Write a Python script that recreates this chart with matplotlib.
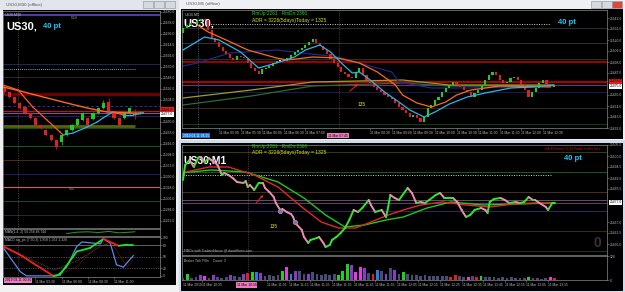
import numpy as np
import matplotlib
matplotlib.use("Agg")
import matplotlib.pyplot as plt
from matplotlib.patches import Rectangle
from matplotlib.collections import LineCollection

plt.rcParams['font.family'] = ['Liberation Sans', 'DejaVu Sans']

W, H = 625, 292

# ================= DATA =================
# ---- left window : US30,M30 ----
lc_open  = [25529, 25519, 25509, 25497, 25489, 25477, 25467, 25453, 25443, 25433, 25423, 25419, 25433, 25443,
            25453, 25463, 25467, 25465, 25477, 25487, 25499, 25481, 25467, 25467, 25477, 25477, 25475]
lc_close = [25519, 25509, 25497, 25487, 25477, 25467, 25453, 25447, 25433, 25423, 25409, 25433, 25443, 25453,
            25465, 25477, 25453, 25477, 25487, 25497, 25481, 25467, 25453, 25477, 25487, 25473, 25477]
lc_high  = [25533, 25521, 25511, 25499, 25491, 25479, 25469, 25455, 25445, 25435, 25425, 25435, 25445, 25455,
            25467, 25479, 25469, 25479, 25489, 25503, 25507, 25483, 25469, 25479, 25489, 25485, 25481]
lc_low   = [25517, 25507, 25495, 25485, 25475, 25465, 25451, 25445, 25431, 25421, 25405, 25413, 25431, 25441,
            25451, 25461, 25451, 25463, 25475, 25485, 25479, 25465, 25451, 25465, 25475, 25465, 25475]
lc_slow_x = [-0.2, 3.1, 7.5, 12.0, 15.9, 19.7, 24.7, 26.6]
lc_slow_y = [25529, 25521, 25509, 25497, 25487, 25479, 25477, 25477]
lc_fast_x = [-0.2, 2.7, 5.5, 8.2, 10.7, 11.3, 13.2, 15.9, 17.8, 18.9, 20.8, 22.8, 24.7, 26.6]
lc_fast_y = [25533, 25523, 25489, 25463, 25439, 25433, 25437, 25449, 25459, 25467, 25479, 25473, 25473, 25477]
lc_levels = [25673, 25575, 25549, 25516, 25491, 25481, 25477, 25471, 25447, 25411, 25383, 25355, 25329, 25301, 25273]
lc_level_colors = ['#4a3ea0', '#1a2a5a', '#2a2a2a', '#6a0000', '#2c2ca0', '#c01010', '#8a4a9a', '#202060',
                   '#1a4a1a', '#1a5a1a', '#4a2a1a', '#1a1a6a', '#d06050', '#1a4a1a', '#2a2a2a']
lc_level_lw = [1.5, 0.7, 0.7, 2.2, 0.7, 0.8, 0.8, 0.7, 0.7, 0.7, 0.7, 0.7, 0.8, 0.7, 0.7]
lc_olive_level = 25451
lc_dotted_level = 25565
lc_price_ticks = [25680, 25658, 25636, 25614, 25592, 25570, 25548, 25526, 25504, 25460, 25438,
                  25416, 25394, 25372, 25350, 25328, 25306, 25284, 25262]
lc_bid, lc_ask = 25477.0, 25481.0
lc_strip_x = [12, 14, 16, 18, 20, 22, 24, 25]
lc_strip_y = [35, 55, 60, 50, 65, 45, 55, 60]
osc_blue_x = [-0.1, 3.1, 4.3, 10.1, 12.0, 13.9, 14.9, 18.4, 19.0, 20.3, 21.5, 22.8, 24.7]
osc_blue_y = [73, 11, 0, 0, 24, 77, 89, 84, 97, 86, 29, 23, 53]
osc_sig_x = [-0.1, 3.1, 5.6, 9.4, 10.7, 13.9, 16.4, 19.0, 21.9, 23.5, 24.7]
osc_sig_y = [77, 55, 33, 0, 3, 64, 73, 97, 79, 82, 82]
osc_gray_x = [-0.1, 9.6, 14.0, 18.4, 20.0]
osc_gray_y = [77, 15, 40, 77, 85]
osc_dred_x = [10.1, 13.9, 18.4, 21.0, 23.5, 24.7]
osc_dred_y = [0, 24, 87, 77, 24, 42]
osc_levels = [80, 50, 20]
osc_ticks = [100, 80, 50, 20, 0]
lc_time_pos = [6, 11, 16, 21]
lc_time_lab = ['11 Mar 03:30', '11 Mar 06:00', '11 Mar 08:30', '11 Mar 11:00']

# ---- top-right window : US30,M5 ----
tr_first_open = 25527
tr_close = [25532, 25535, 25537, 25536, 25539, 25541, 25540, 25530, 25522, 25518,
            25513, 25509, 25506, 25502, 25500, 25504, 25503, 25502, 25497, 25492,
            25489, 25486, 25491, 25492, 25494, 25497, 25499, 25499, 25499, 25502,
            25505, 25508, 25510, 25512, 25515, 25518, 25521, 25517, 25514, 25510,
            25506, 25501, 25497, 25493, 25488, 25486, 25483, 25482, 25488, 25492,
            25485, 25480, 25477, 25473, 25470, 25468, 25465, 25463, 25461, 25457, 25453,
            25450, 25447, 25443, 25445, 25442, 25438, 25443, 25452, 25455, 25460,
            25463, 25468, 25472, 25475, 25478, 25475, 25473, 25470, 25468, 25463,
            25467, 25470, 25475, 25480, 25485, 25488, 25485, 25480, 25477, 25478,
            25482, 25483, 25480, 25475, 25470, 25463, 25468, 25472, 25477, 25480,
            25475, 25473, 25475]
tr_orange_x = [4, 7, 12, 18, 26, 29, 36, 43, 49, 54, 59, 61, 65, 69, 73, 76, 80, 88, 102]
tr_orange_y = [25535, 25528, 25520, 25510, 25502, 25500, 25503, 25502, 25497, 25488, 25475, 25465,
               25457, 25453, 25458, 25465, 25470, 25474, 25473]
tr_cyan_x = [0, 6, 10, 16, 21, 26, 31, 34, 38, 41, 44, 47, 49, 52, 56, 60, 63, 67, 70, 74, 79, 84, 91, 97, 103]
tr_cyan_y = [25510, 25523, 25520, 25508, 25492, 25497, 25503, 25510, 25515, 25508, 25497, 25487, 25488,
             25480, 25468, 25458, 25450, 25443, 25448, 25456, 25463, 25467, 25472, 25473, 25475]
tr_navy_x = [0, 4, 13, 26, 43, 58, 60, 69, 79, 94, 103]
tr_navy_y = [25494, 25497, 25507, 25510, 25503, 25488, 25478, 25472, 25472, 25473, 25474]
tr_olive_x = [0, 19, 36, 61, 74, 103]
tr_olive_y = [25462, 25470, 25478, 25480, 25475, 25475]
tr_dgreen_x = [0, 19, 36, 61, 74, 103]
tr_dgreen_y = [25455, 25464, 25474, 25477, 25474, 25474]
tr_levels = [25532, 25517, 25501, 25498, 25478, 25475, 25468, 25452, 25436]
tr_level_colors = ['#2e2e2e', '#333333', '#173b17', '#a00000', '#b00000', '#6e2e86', '#1a1a55', '#3d2a18', '#123d12']
tr_level_lw = [0.7, 0.7, 0.7, 1.4, 1.4, 0.8, 0.7, 0.7, 0.7]
tr_dotted_level = 25536
tr_price_ticks = [25542, 25531, 25520, 25509, 25498, 25487, 25465, 25454, 25443, 25432]
tr_ask, tr_bid = 25478.0, 25475.0
tr_time_pos = [10, 16, 22, 28, 34, 52, 58, 64, 70, 76, 82, 88, 94, 100]
tr_time_lab = ['11 Mar 05:00', '11 Mar 05:30', '11 Mar 06:00', '11 Mar 06:30', '11 Mar 07:00',
               '11 Mar 08:30', '11 Mar 09:00', '11 Mar 09:30', '11 Mar 10:00', '11 Mar 10:30',
               '11 Mar 11:00', '11 Mar 11:30', '11 Mar 12:00', '11 Mar 12:30']

# ---- bottom-right window : US30,M1 ----
br_t = [0, 1, 3, 5, 7, 8, 10, 12, 13, 15, 16, 18, 19, 21, 23, 25, 28, 29, 30, 31, 33, 35, 37, 38, 40, 42, 43,
        45, 46, 48, 50, 51, 52, 55, 56, 58, 59, 62, 63, 65, 66, 68, 69, 71, 73, 75, 77, 79, 81, 83, 86, 87,
        89, 92, 94, 95, 96, 98, 100, 104, 106, 108, 110, 112, 114, 117, 119, 121, 125, 127, 129, 131, 133,
        135, 138, 140, 141, 142, 144, 147, 149, 151, 154, 156, 158, 160, 162, 163, 165, 168, 169, 171, 172]
br_price = [25488, 25495.5, 25498, 25494.5, 25499, 25499.5, 25497, 25499, 25498, 25496.5, 25495.5, 25490.5,
            25491.5, 25490.5, 25489, 25487, 25486.5, 25487.5, 25484.5, 25485.5, 25483, 25486.5, 25486.5, 25484,
            25482, 25479.5, 25476.5, 25473, 25473.5, 25472, 25471, 25469.5, 25466.5, 25463, 25459.5, 25456.5,
            25458, 25459, 25459.5, 25456.5, 25454.5, 25455.5, 25458, 25459.5, 25461.5, 25464, 25468, 25473,
            25472, 25474, 25478, 25475.5, 25472, 25473, 25469.5, 25474.5, 25480.5, 25479, 25478, 25484,
            25481.5, 25476.5, 25477, 25476.5, 25478, 25480.5, 25481.5, 25479, 25479, 25477, 25473, 25469.5,
            25470.5, 25473, 25474, 25473, 25471.5, 25477, 25478.5, 25479, 25478, 25476.5, 25477, 25476.5,
            25477, 25479.5, 25478, 25478, 25476.5, 25474.5, 25473, 25476.5, 25476.5]
br_red_x = [-1, 12, 21, 33, 44, 55, 64, 72, 80, 87, 95, 102, 110, 120, 131, 142, 153, 162, 171]
br_red_y = [25491.5, 25494.5, 25494.5, 25490.5, 25484.5, 25474.5, 25467, 25464, 25464, 25467, 25470.5,
            25473, 25475.5, 25477, 25475.5, 25474.5, 25476, 25476.5, 25476.5]
br_green_x = [-1, 13, 29, 44, 56, 66, 75, 84, 94, 102, 113, 124, 139, 155, 171]
br_green_y = [25491.5, 25493, 25492, 25487, 25479, 25470.5, 25464.5, 25465.5, 25468, 25469.5, 25474,
              25477, 25475.5, 25476, 25476.5]
br_levels = [25502, 25492, 25482, 25478, 25476.5, 25472.5, 25462.5, 25452.5]
br_level_colors = ['#3a3a12', '#1a5a1a', '#4a3020', '#5a5a5a', '#7a2a8a', '#2a2a6a', '#3a2a1a', '#1a3a1a']
br_dotted_level = 25490.5
br_price_ticks = [25505.5, 25500.0, 25494.5, 25489.0, 25483.5, 25467.0, 25461.5, 25456.0]
br_bid = 25477.0
br_circles_t = [45, 52]
br_circles_p = [25472.5, 25467.0]
br_vol = [12, 35, 10, 14, 25, 22, 12, 25, 15, 12, 18, 28, 20, 18, 33, 38, 45, 45, 40, 22, 25, 20, 28, 50, 70,
          30, 50, 50, 30, 35, 45, 30, 28, 32, 25, 30, 28, 50, 85, 80, 45, 70, 65, 40, 30, 55, 50, 30, 65,
          55, 30, 45, 30, 25, 28, 22, 25, 20, 24, 20, 22, 20, 18, 25, 22, 15, 18, 20, 15, 22, 18, 14, 16,
          12, 15, 12, 14, 10, 12, 10, 15, 10, 12, 8, 10, 18, 12]
br_vol_kind = 'ngnnpmnpnnnpnnprgbpnnnngmbpnnpnnnnnngggpmmpnrbnpnpngnnnnnnnnnnrrnnmnrgnnnnnnnnnngnnnnmr'
br_time_pos = [9, 39, 49, 59, 69, 79, 89, 99, 109, 119, 129, 139, 149, 159, 169]
br_time_lab = ['11 Mar 10:35', '11 Mar 11:05', '11 Mar 11:15', '11 Mar 11:25',
               '11 Mar 11:35', '11 Mar 11:45', '11 Mar 11:55', '11 Mar 12:05', '11 Mar 12:15', '11 Mar 12:25',
               '11 Mar 12:35', '11 Mar 12:45', '11 Mar 12:55', '11 Mar 13:05', '11 Mar 13:15']

# ================= DRAWING =================
BULL, BEAR = '#22cc22', '#e02020'
TXT = '#b8b8b8'
TS = 2.4   # axis text size
NARROW = ['Liberation Sans Narrow', 'Liberation Sans', 'DejaVu Sans']

fig = plt.figure(figsize=(6.25, 2.92), dpi=100)
fig.patch.set_facecolor('#e4e8ee')

bg = fig.add_axes([0, 0, 1, 1])
bg.set_xlim(0, W); bg.set_ylim(H, 0); bg.axis('off')


def rect(x0, y0, x1, y1, fc, ec='none', lw=0.5):
    bg.add_patch(Rectangle((x0, y0), x1 - x0, y1 - y0, facecolor=fc, edgecolor=ec, linewidth=lw))


rect(0, 0, 178, 286, '#eef0f3')
rect(0, 0, 178, 10, '#e2e6ec')
rect(3, 10, 176, 285, 'black')
rect(179, 0, 625, 140, '#eef0f3')
rect(181, 9, 623, 139, 'black')
rect(179, 140, 625, 292, '#cfdcea')
rect(181, 143, 623, 291, 'black')
rect(0, 286, 179, 292, '#f2f2f2')
for bx in (143, 154, 165):
    rect(bx, 1, bx + 10, 8, '#d6d9de', '#9aa0a8')
for bx, c in ((591, '#d6d9de'), (602, '#d6d9de'), (612, '#d84a3a')):
    rect(bx, 1, bx + 10, 8, c, '#9aa0a8')
bg.text(6, 5, 'US30,M30 (offline)', fontsize=3.2, color='#555555', va='center')
bg.text(186, 4.5, 'US30,M5 (offline)', fontsize=3.2, color='#555555', va='center')


def pax(x0, y0, x1, y1):
    a = fig.add_axes([x0 / W, 1 - y1 / H, (x1 - x0) / W, (y1 - y0) / H])
    a.set_facecolor('black')
    for s in a.spines.values():
        s.set_color('#8a8a8a'); s.set_linewidth(0.5)
    a.yaxis.tick_right()
    a.tick_params(axis='both', length=1.5, width=0.4, color='#8a8a8a', labelsize=TS,
                  labelcolor=TXT, pad=0.8)
    return a


def colored_line(ax, x, y, up, down, lw, z=3):
    x = np.asarray(x, float); y = np.asarray(y, float)
    segs = np.stack([np.column_stack([x[:-1], y[:-1]]), np.column_stack([x[1:], y[1:]])], axis=1)
    cols = [up if y[i + 1] >= y[i] else down for i in range(len(x) - 1)]
    ax.add_collection(LineCollection(segs, colors=cols, linewidths=lw, zorder=z, capstyle='round'))


def candles(ax, o, c, width, minh):
    o = np.asarray(o, float); c = np.asarray(c, float)
    x = np.arange(len(o))
    body = c - o
    h = np.where(np.abs(body) < minh, minh, np.abs(body))
    bottom = np.minimum(o, c)
    cols = [BULL if cc > oo else (BEAR if cc < oo else '#d0d0d0') for oo, cc in zip(o, c)]
    ax.bar(x, h, bottom=bottom, width=width, color=cols, zorder=4, linewidth=0)
    return x, cols


def price_box(ax, p, txt, fc, dy_px=0.0, tc='black'):
    # dy_px nudges the label so stacked ask/bid boxes sit next to each other
    off = matplotlib.transforms.ScaledTranslation(0, dy_px / 100.0, fig.dpi_scale_trans)
    ax.text(1.006, p, txt, transform=ax.get_yaxis_transform() + off, fontsize=TS, color=tc, va='center',
            ha='left', clip_on=False, zorder=10,
            bbox=dict(facecolor=fc, edgecolor='none', pad=0.35))


def time_ticks(ax, pos, lab):
    ax.set_xticks(pos)
    ax.set_xticklabels(lab)
    for t in ax.get_xticklabels():
        t.set_horizontalalignment('left')


def big_label(ax, x, y, s, size, **kw):
    ax.text(x, y, s, transform=ax.transAxes, fontsize=size, color='white', weight='bold', va='center',
            family=NARROW, **kw)


# ---------- left window ----------
lc = pax(3, 11, 160, 228)
lc.set_xlim(-0.19, 29.8); lc.set_ylim(25247, 25681)
for p, c, lw in zip(lc_levels, lc_level_colors, lc_level_lw):
    ls = (0, (3, 2)) if c == '#2c2ca0' else '-'
    lc.axhline(p, color=c, lw=lw, ls=ls, zorder=1)
lc.hlines(lc_olive_level, -0.19, 25, color='#56650f', lw=2.0, zorder=1)
lc.hlines(lc_dotted_level, -0.19, 25, color='#d0d0d0', lw=0.6, ls=(0, (1, 1.5)), zorder=1)
lc.axvline(2.68, color='#a04a7a', lw=0.5, ls=(0, (1, 1.5)), zorder=2)
x, cols = candles(lc, lc_open, lc_close, 0.6, 1.5)
lc.vlines(x, lc_low, lc_high, colors=cols, lw=0.5, zorder=3)
lc.plot(lc_slow_x, lc_slow_y, color='#ff6a1a', lw=1.0, zorder=5)
colored_line(lc, lc_fast_x, lc_fast_y, '#2fb3ea', '#ff5a2a', 0.9, z=5)
lc.set_yticks(lc_price_ticks)
lc.set_yticklabels([f'{v:.1f}' for v in lc_price_ticks])
lc.set_xticks([])
price_box(lc, lc_ask, f'{lc_ask:.1f}', '#e02020', dy_px=1.2)
price_box(lc, lc_bid, f'{lc_bid:.1f}', 'white', dy_px=-1.2)
lc.text(0.012, 0.995, 'US30,M30', transform=lc.transAxes, fontsize=2.6, color=TXT, va='top')
big_label(lc, 0.02, 0.928, 'US30,', 8)
lc.text(0.255, 0.93, '40 pt', transform=lc.transAxes, fontsize=5.5, color='#18c8ff', weight='bold', va='center')
lc.text(0.43, 0.97, 'R3H', transform=lc.transAxes, fontsize=2.6, color='#8a8a8a', va='center')
lc.text(0.42, 25324, 'R3L', transform=lc.get_yaxis_transform(), fontsize=2.6, color='#8a8a8a', va='center')

st = pax(3, 229, 160, 236)
st.set_xlim(-0.19, 29.8); st.set_ylim(0, 100)
st.plot(lc_strip_x, lc_strip_y, color='#2aa02a', lw=0.7)
st.set_xticks([]); st.set_yticks([])
st.text(0.01, 0.5, 'MAN(1.4, 2) 50.258 48.744', transform=st.transAxes, fontsize=2.4, color=TXT, va='center')

osc = pax(3, 237, 160, 277)
osc.set_xlim(-0.19, 29.8); osc.set_ylim(-3, 102)
for v, ls in zip(osc_levels, ['-', (0, (1, 1.5)), (0, (1, 1.5))]):
    osc.axhline(v, color='#8a8a8a', lw=0.5, ls=ls, zorder=1)
osc.axvline(2.68, color='#a04a7a', lw=0.5, ls=(0, (1, 1.5)), zorder=2)
osc.plot(osc_gray_x, osc_gray_y, color='#5a5a5a', lw=0.6, ls=(0, (1, 1)), zorder=2)
osc.plot(osc_dred_x, osc_dred_y, color='#8a1a1a', lw=0.6, ls=(0, (1, 1)), zorder=2)
osc.plot(osc_blue_x, osc_blue_y, color='#5a8ae8', lw=0.9, zorder=3)
colored_line(osc, osc_sig_x, osc_sig_y, '#22e022', '#ff1a1a', 1.3, z=4)
osc.set_yticks(osc_ticks)
osc.set_yticklabels([str(v) for v in osc_ticks])
time_ticks(osc, lc_time_pos, lc_time_lab)
osc.text(0.012, 0.93, 'MACD sig_ps (7,50,3) 1.958 1.352 1.328', transform=osc.transAxes, fontsize=2.4,
         color=TXT, va='center')
osc.text(0.01, -0.085, '2019.03.11 00:30', transform=osc.transAxes, fontsize=TS, color='black', va='center',
         bbox=dict(facecolor='#f07ac0', edgecolor='none', pad=0.5), zorder=10)

# ---------- top-right window ----------
tr = pax(182, 10, 607, 128)
tr.set_xlim(-0.28, 117.8); tr.set_ylim(25432, 25550)
for p, c, lw in zip(tr_levels, tr_level_colors, tr_level_lw):
    tr.axhline(p, color=c, lw=lw, zorder=1)
tr.hlines(tr_dotted_level, 7, 102, color='#d0d0d0', lw=0.7, ls=(0, (1, 1.5)), zorder=1)
tr.axvline(4.2, color='#6a8aaa', lw=0.5, ls=(0, (1, 1.5)), zorder=2)
tr.axvline(43.3, color='#a04a7a', lw=0.5, ls=(0, (1, 1.5)), zorder=2)
tr.plot(tr_dgreen_x, tr_dgreen_y, color='#2e6a2e', lw=0.9, zorder=2)
tr.plot(tr_olive_x, tr_olive_y, color='#9aa020', lw=0.9, zorder=2)
tr.plot(tr_navy_x, tr_navy_y, color='#1c2a8a', lw=0.9, zorder=2)
tr_open = [tr_first_open] + tr_close[:-1]
candles(tr, tr_open, tr_close, 0.6, 1.0)
tr.plot(tr_orange_x, tr_orange_y, color='#ff6a1a', lw=0.9, zorder=5)
tr.plot(tr_cyan_x, tr_cyan_y, color='#2fb3ea', lw=0.9, zorder=5)
tr.annotate('', xy=(49.2, 25478), xytext=(45.8, 25467),
            arrowprops=dict(arrowstyle='-|>', color='#ff2020', lw=0.7, mutation_scale=3), zorder=6)
tr.text(49.7, 25456, '135', fontsize=3.5, color='#e0e020', ha='center', va='center')
tr.set_yticks(tr_price_ticks)
tr.set_yticklabels([f'{v:.1f}' for v in tr_price_ticks])
time_ticks(tr, tr_time_pos, tr_time_lab)
price_box(tr, tr_ask, f'{tr_ask:.1f}', '#e02020', dy_px=0.8)
price_box(tr, tr_bid, f'{tr_bid:.1f}', 'white', dy_px=-1.0)
tr.text(0.006, 0.975, 'US30,M5', transform=tr.transAxes, fontsize=2.6, color=TXT, va='top')
big_label(tr, 0.003, 0.885, 'US30,', 8)
tr.text(0.165, 0.97, 'RmUp:2281   RmDn:2366', transform=tr.transAxes, fontsize=3.4, color='#22d022', va='center')
tr.text(0.165, 0.915, 'ADR = 3226(5days)Today = 1325', transform=tr.transAxes, fontsize=3.6,
        color='#d8e020', va='center')
tr.text(0.885, 0.89, '40 pt', transform=tr.transAxes, fontsize=5.5, color='#18c8ff', weight='bold', va='center')
tr.text(0.002, -0.065, '2019.03.11 04:25', transform=tr.transAxes, fontsize=TS, color='white', va='center',
        bbox=dict(facecolor='#1a7ad8', edgecolor='none', pad=0.5), zorder=10)
tr.text(40.3, -0.065, '11 Mar 07:45', transform=tr.get_xaxis_transform(), fontsize=TS, color='black',
        va='center', bbox=dict(facecolor='#f07ac0', edgecolor='none', pad=0.5), zorder=10, clip_on=False)

# ---------- bottom-right window ----------
br = pax(182, 145, 607, 255)
br.set_xlim(-0.46, 196.3); br.set_ylim(25450.5, 25505.5)
for p, c in zip(br_levels, br_level_colors):
    br.axhline(p, color=c, lw=0.7, zorder=1)
br.hlines(br_dotted_level, 0, 171, color='#d0d0d0', lw=0.7, ls=(0, (1, 1.5)), zorder=1)
br.axvline(30, color='#a04a7a', lw=0.5, ls=(0, (1, 1.5)), zorder=2)
br.plot(br_green_x, br_green_y, color='#1ec81e', lw=1.0, zorder=3)
br.plot(br_red_x, br_red_y, color='#e02828', lw=1.0, zorder=3)
colored_line(br, br_t, br_price, '#2ee82e', '#f08cb4', 1.4, z=4)
br.scatter(br_circles_t, br_circles_p, s=9, facecolor='#3a8ac0', edgecolor='#e07aa0', lw=0.6, zorder=6)
br.annotate('', xy=(38, 25481.5), xytext=(33, 25475.5),
            arrowprops=dict(arrowstyle='-|>', color='#ff2020', lw=0.7, mutation_scale=3), zorder=6)
br.text(42, 25464.5, '135', fontsize=3.5, color='#e0e020', ha='center', va='center')
br.text(192, 25456.5, '0', fontsize=10, color='#353535', weight='bold', ha='center', va='center')
br.set_yticks(br_price_ticks)
br.set_yticklabels([f'{v:.1f}' for v in br_price_ticks])
br.set_xticks([])
price_box(br, br_bid, f'{br_bid:.1f}', 'white')
big_label(br, 0.004, 0.86, 'US30,M1', 7.5)
br.text(0.165, 0.985, 'RmUp:2281   RmDn:2366', transform=br.transAxes, fontsize=3.4, color='#22d022', va='center')
br.text(0.165, 0.93, 'ADR = 3226(5days)Today = 1325', transform=br.transAxes, fontsize=3.6,
        color='#d8e020', va='center')
br.text(0.985, 0.96, 'EA 40Hour(0.2(2) Pedal Sales Info', transform=br.transAxes, fontsize=2.6,
        color='#b01818', ha='right', va='center')
br.text(0.94, 0.875, '40 pt', transform=br.transAxes, fontsize=5.5, color='#18c8ff', weight='bold',
        va='center', ha='right')
br.text(0.004, 0.04, 'FIBOs with TradersHouse @ danielforex.com', transform=br.transAxes, fontsize=2.4,
        color=TXT, va='center')

vol = pax(182, 256, 607, 280)
vol.set_xlim(-0.46, 196.3); vol.set_ylim(0, 130)
vcol = {'n': '#4a4a78', 'g': '#22d022', 'p': '#8a3ac8', 'm': '#e040e0', 'b': '#2a7ae8', 'r': '#e02020'}
vt = np.arange(len(br_vol)) * 2
vol.bar(vt, br_vol, width=1.3, color=[vcol[k] for k in br_vol_kind], linewidth=0, zorder=3)
vol.axvline(30, color='#a04a7a', lw=0.5, ls=(0, (1, 1.5)), zorder=2)
vol.set_yticks([0, 128])
vol.set_yticklabels(['0', '128'])
time_ticks(vol, br_time_pos, br_time_lab)
vol.text(0.004, 0.8, 'Broker Tick FVfs    Count: 3', transform=vol.transAxes, fontsize=2.4, color=TXT, va='center')
vol.text(25, -0.2, '11 Mar 10:50', transform=vol.get_xaxis_transform(), fontsize=TS, color='black',
         va='center', bbox=dict(facecolor='#f07ac0', edgecolor='none', pad=0.5), zorder=10, clip_on=False)
vol.text(0.003, -0.2, '11 Mar 2019', transform=vol.transAxes, fontsize=TS, color=TXT, va='center')

fig.savefig('out.png', dpi=100, facecolor=fig.get_facecolor())
